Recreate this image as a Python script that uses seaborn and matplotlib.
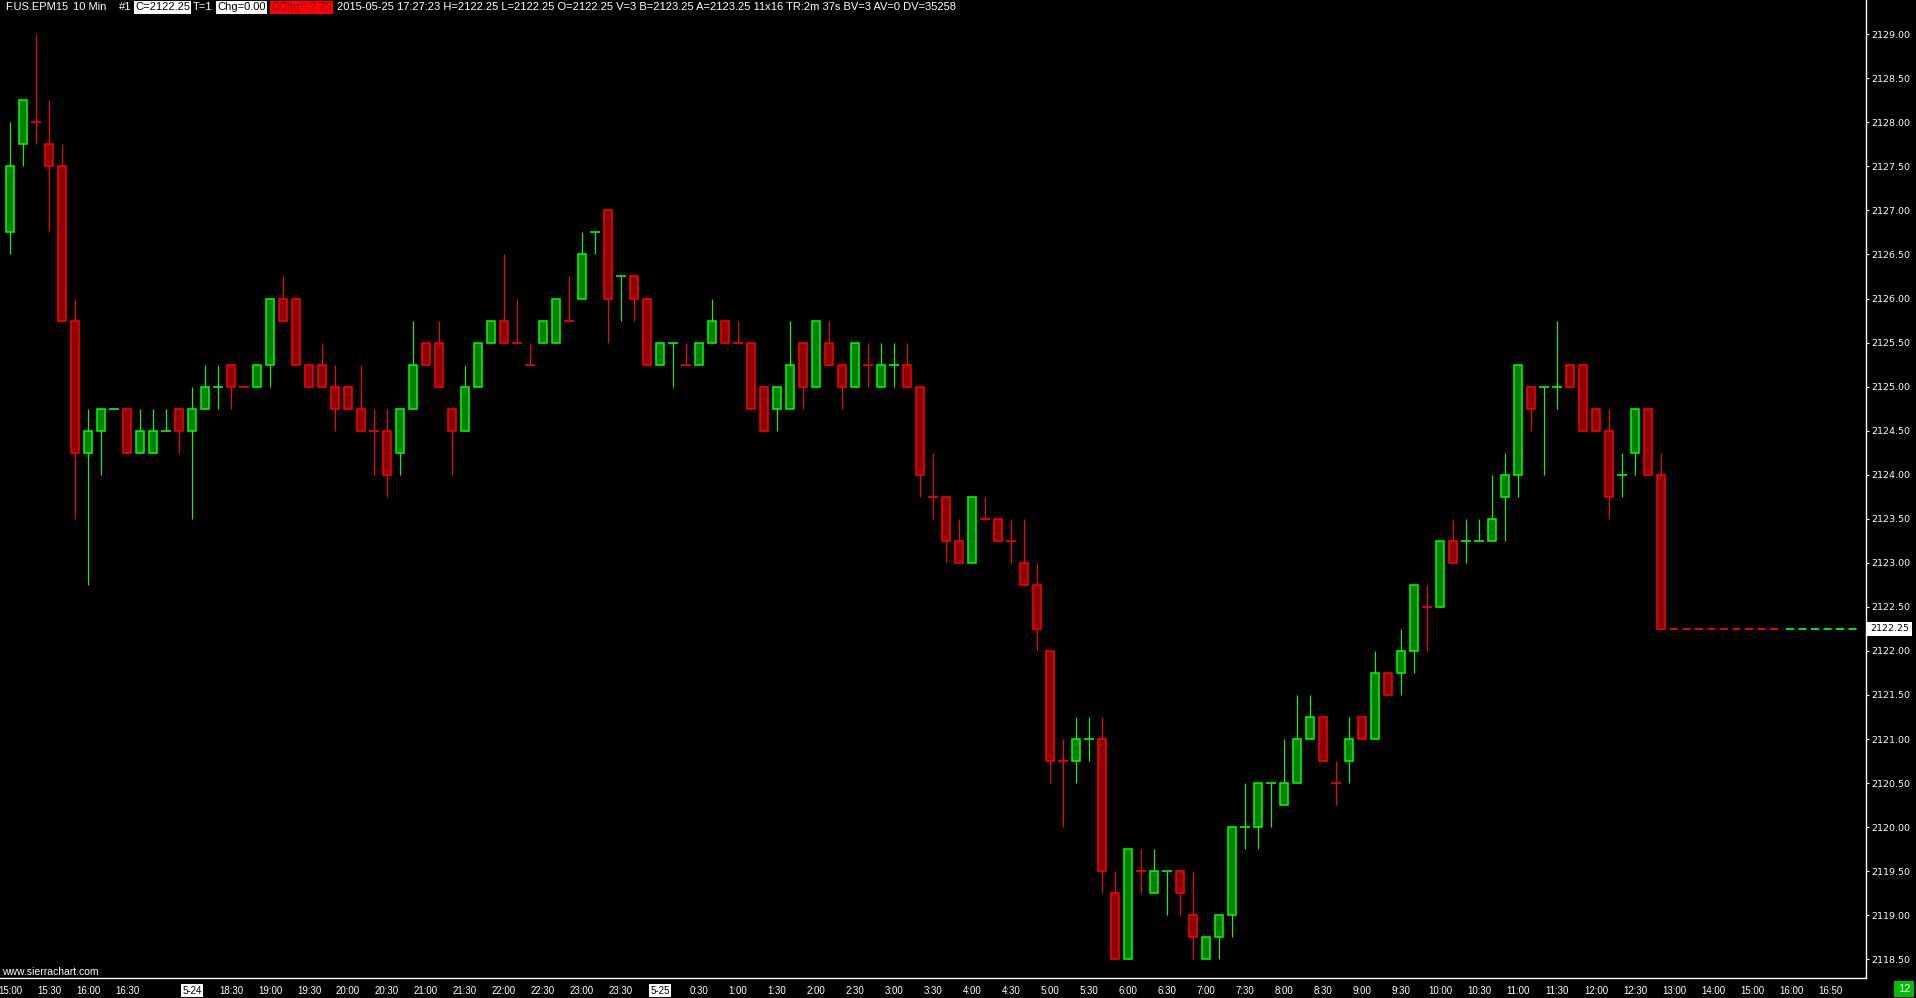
import numpy as np
import pandas as pd
import matplotlib
matplotlib.use("Agg")
import matplotlib.pyplot as plt
import matplotlib.transforms as mtransforms
import seaborn as sns

# ---------------- data (10-minute bars, F.US.EPM15) ----------------
opens = [2126.75, 2127.75, 2128.0, 2127.75, 2127.5, 2125.75, 2124.25, 2124.5, 2124.75, 2124.75,
         2124.25, 2124.25, 2124.5, 2124.75, 2124.5, 2124.75, 2125.0, 2125.25, 2125.0, 2125.0,
         2125.25, 2126.0, 2126.0, 2125.25, 2125.25, 2125.0, 2125.0, 2124.75, 2124.5, 2124.5,
         2124.25, 2124.75, 2125.5, 2125.5, 2124.75, 2124.5, 2125.0, 2125.5, 2125.75, 2125.5,
         2125.25, 2125.5, 2125.5, 2125.75, 2126.0, 2126.75, 2127.0, 2126.25, 2126.25, 2126.0,
         2125.25, 2125.5, 2125.25, 2125.25, 2125.5, 2125.75, 2125.5, 2125.5, 2125.0, 2124.75,
         2124.75, 2125.5, 2125.0, 2125.5, 2125.25, 2125.0, 2125.25, 2125.0, 2125.25, 2125.25,
         2125.0, 2123.75, 2123.75, 2123.25, 2123.0, 2123.5, 2123.5, 2123.25, 2123.0, 2122.75,
         2122.0, 2120.75, 2120.75, 2121.0, 2121.0, 2119.25, 2118.5, 2119.5, 2119.25, 2119.5,
         2119.5, 2119.0, 2118.5, 2118.75, 2119.0, 2120.0, 2120.0, 2120.5, 2120.25, 2120.5,
         2121.0, 2121.25, 2120.5, 2120.75, 2121.25, 2121.0, 2121.75, 2121.75, 2122.0, 2122.5,
         2122.5, 2123.25, 2123.25, 2123.25, 2123.25, 2123.75, 2124.0, 2125.0, 2125.0, 2125.0,
         2125.25, 2125.25, 2124.75, 2124.5, 2124.0, 2124.25, 2124.75, 2124.0]
highs = [2128.0, 2128.25, 2129.0, 2128.25, 2127.75, 2126.0, 2124.75, 2124.75, 2124.75, 2124.75,
         2124.75, 2124.75, 2124.75, 2124.75, 2125.0, 2125.25, 2125.25, 2125.25, 2125.0, 2125.25,
         2126.0, 2126.25, 2126.0, 2125.25, 2125.5, 2125.25, 2125.0, 2125.25, 2124.75, 2124.75,
         2124.75, 2125.75, 2125.5, 2125.75, 2124.75, 2125.25, 2125.5, 2125.75, 2126.5, 2126.0,
         2125.5, 2125.75, 2126.0, 2126.25, 2126.75, 2126.75, 2127.0, 2126.25, 2126.25, 2126.0,
         2125.5, 2125.5, 2125.5, 2125.5, 2126.0, 2125.75, 2125.75, 2125.5, 2125.0, 2125.0,
         2125.75, 2125.5, 2125.75, 2125.75, 2125.25, 2125.5, 2125.5, 2125.5, 2125.5, 2125.5,
         2125.0, 2124.25, 2123.75, 2123.5, 2123.75, 2123.75, 2123.5, 2123.5, 2123.5, 2123.0,
         2122.0, 2121.0, 2121.25, 2121.25, 2121.25, 2119.5, 2119.75, 2119.75, 2119.75, 2119.5,
         2119.5, 2119.5, 2118.75, 2119.0, 2120.0, 2120.5, 2120.5, 2120.5, 2121.0, 2121.5,
         2121.5, 2121.25, 2120.75, 2121.25, 2121.25, 2122.0, 2121.75, 2122.25, 2122.75, 2122.75,
         2123.25, 2123.5, 2123.5, 2123.5, 2124.0, 2124.25, 2125.25, 2125.0, 2125.0, 2125.75,
         2125.25, 2125.25, 2124.75, 2124.75, 2124.25, 2124.75, 2124.75, 2124.25]
lows = [2126.5, 2127.5, 2127.75, 2126.75, 2125.75, 2123.5, 2122.75, 2124.0, 2124.75, 2124.25,
        2124.25, 2124.25, 2124.5, 2124.25, 2123.5, 2124.75, 2124.75, 2124.75, 2125.0, 2125.0,
        2125.0, 2125.75, 2125.25, 2125.0, 2125.0, 2124.5, 2124.75, 2124.5, 2124.0, 2123.75,
        2124.0, 2124.75, 2125.25, 2125.0, 2124.0, 2124.5, 2125.0, 2125.5, 2125.5, 2125.5,
        2125.25, 2125.5, 2125.5, 2125.75, 2126.0, 2126.5, 2125.5, 2125.75, 2125.75, 2125.25,
        2125.25, 2125.0, 2125.25, 2125.25, 2125.5, 2125.5, 2125.5, 2124.75, 2124.5, 2124.5,
        2124.75, 2124.75, 2125.0, 2125.25, 2124.75, 2125.0, 2125.0, 2125.0, 2125.0, 2125.0,
        2123.75, 2123.5, 2123.0, 2123.0, 2123.0, 2123.5, 2123.25, 2123.0, 2122.75, 2122.0,
        2120.5, 2120.0, 2120.5, 2120.75, 2119.25, 2118.5, 2118.5, 2119.25, 2119.25, 2119.0,
        2119.0, 2118.5, 2118.5, 2118.5, 2118.75, 2119.75, 2119.75, 2120.0, 2120.25, 2120.5,
        2121.0, 2120.75, 2120.25, 2120.5, 2121.0, 2121.0, 2121.5, 2121.5, 2121.75, 2122.0,
        2122.5, 2123.0, 2123.0, 2123.25, 2123.25, 2123.25, 2123.75, 2124.5, 2124.0, 2124.75,
        2125.0, 2124.5, 2124.5, 2123.5, 2123.75, 2124.0, 2124.0, 2122.25]
closes = [2127.5, 2128.25, 2128.0, 2127.5, 2125.75, 2124.25, 2124.5, 2124.75, 2124.75, 2124.25,
          2124.5, 2124.5, 2124.5, 2124.5, 2124.75, 2125.0, 2125.0, 2125.0, 2125.0, 2125.25,
          2126.0, 2125.75, 2125.25, 2125.0, 2125.0, 2124.75, 2124.75, 2124.5, 2124.5, 2124.0,
          2124.75, 2125.25, 2125.25, 2125.0, 2124.5, 2125.0, 2125.5, 2125.75, 2125.5, 2125.5,
          2125.25, 2125.75, 2126.0, 2125.75, 2126.5, 2126.75, 2126.0, 2126.25, 2126.0, 2125.25,
          2125.5, 2125.5, 2125.25, 2125.5, 2125.75, 2125.5, 2125.5, 2124.75, 2124.5, 2125.0,
          2125.25, 2125.0, 2125.75, 2125.25, 2125.0, 2125.5, 2125.25, 2125.25, 2125.25, 2125.0,
          2124.0, 2123.75, 2123.25, 2123.0, 2123.75, 2123.5, 2123.25, 2123.25, 2122.75, 2122.25,
          2120.75, 2120.75, 2121.0, 2121.0, 2119.5, 2118.5, 2119.75, 2119.5, 2119.5, 2119.5,
          2119.25, 2118.75, 2118.75, 2119.0, 2120.0, 2120.0, 2120.5, 2120.5, 2120.5, 2121.0,
          2121.25, 2120.75, 2120.5, 2121.0, 2121.0, 2121.75, 2121.5, 2122.0, 2122.75, 2122.5,
          2123.25, 2123.0, 2123.25, 2123.25, 2123.5, 2124.0, 2125.25, 2124.75, 2125.0, 2125.0,
          2125.0, 2124.5, 2124.5, 2123.75, 2124.0, 2124.75, 2124.0, 2122.25]

# x-axis time labels (one every 3 bars; dates mark a session start)
xtick_labels = ["15:00", "15:30", "16:00", "16:30", "5-24", "18:30", "19:00", "19:30", "20:00",
                "20:30", "21:00", "21:30", "22:00", "22:30", "23:00", "23:30", "5-25", "0:30",
                "1:00", "1:30", "2:00", "2:30", "3:00", "3:30", "4:00", "4:30", "5:00", "5:30",
                "6:00", "6:30", "7:00", "7:30", "8:00", "8:30", "9:00", "9:30", "10:00", "10:30",
                "11:00", "11:30", "12:00", "12:30", "13:00", "14:00", "15:00", "16:00", "16:50"]
xtick_bars = [0, 3, 6, 9] + list(range(14, 141, 3))
date_labels = ["5-24", "5-25"]

yticks = np.arange(2118.5, 2129.01, 0.5)
last_price = 2122.25

header_main = ["F.US.EPM15", "10 Min", "#1"]
header_c, header_t, header_chg, header_dchg = "C=2122.25", "T=1", "Chg=0.00", "DChg=-2.25"
header_rest = ("2015-05-25 17:27:23 H=2122.25 L=2122.25 O=2122.25 V=3 B=2123.25 A=2123.25 "
               "11x16 TR:2m 37s BV=3 AV=0 DV=35258")

# ---------------- styling ----------------
sns.set_theme(style="dark", rc={
    "axes.facecolor": "black", "figure.facecolor": "black",
    "axes.edgecolor": "white", "axes.grid": False,
    "xtick.color": "white", "ytick.color": "white",
    "text.color": "white", "lines.scale_dashes": False,
})
plt.rcParams["font.family"] = ["Liberation Sans", "DejaVu Sans"]

UP_EDGE, UP_FILL = "#00ff00", "#008000"
DN_EDGE, DN_FILL = "#ff0000", "#8b0000"


def box(color, pad=0.12):
    return dict(facecolor=color, edgecolor="none", boxstyle=f"square,pad={pad}")


df = pd.DataFrame({"open": opens, "high": highs, "low": lows, "close": closes})
df["x"] = np.arange(len(df))
# direction: body direction, else change vs previous close, else previous colour
up = []
for i, r in df.iterrows():
    if r.close > r.open:
        u = True
    elif r.close < r.open:
        u = False
    elif i > 0 and r.close > df.close[i - 1]:
        u = True
    elif i > 0 and r.close < df.close[i - 1]:
        u = False
    else:
        u = up[-1] if up else True
    up.append(u)
df["up"] = up
edge = np.where(df.up, UP_EDGE, DN_EDGE)
fill = np.where(df.up, UP_FILL, DN_FILL)

W, H = 1916, 998
fig = plt.figure(figsize=(W / 100, H / 100), dpi=100)
ax = fig.add_axes([0, 20 / H, 1866 / W, 978 / H])

px_per_q = 22.03  # pixels per 0.25
ax.set_ylim(2118.5 - (978 - 959.3) / px_per_q * 0.25, 2129.0 + 34.2 / px_per_q * 0.25)
ax.set_xlim(-10 / 13, (1866 - 10) / 13)

# wicks
ax.vlines(df.x, df.low, df.high, colors=edge, linewidth=0.8, zorder=2)
# bodies
body = df[df.open != df.close]
ax.bar(body.x, (body.close - body.open).abs(), bottom=np.minimum(body.open, body.close),
       width=0.56, color=fill[body.index], edgecolor=edge[body.index], linewidth=1.1, zorder=3)
# doji
doji = df[df.open == df.close]
ax.hlines(doji.close, doji.x - 0.36, doji.x + 0.36, colors=edge[doji.index], linewidth=1.2, zorder=3)

# last price dashed line
last = len(df) - 1
ax.hlines(last_price, last + 0.7, last + 9.4, colors=DN_EDGE, linewidth=1.3,
          linestyles=(0, (5.8, 3.2)), zorder=2)
ax.hlines(last_price, last + 9.6, last + 15.4, colors=UP_EDGE, linewidth=1.3,
          linestyles=(0, (5.8, 3.2)), zorder=2)

# spines
for s in ["left", "top"]:
    ax.spines[s].set_visible(False)
for s in ["right", "bottom"]:
    ax.spines[s].set_color("white")
    ax.spines[s].set_linewidth(1.0)

# y axis on right
ax.yaxis.tick_right()
ax.set_yticks(yticks)
ax.set_yticklabels([f"{v:.2f}" for v in yticks], fontfamily="DejaVu Sans")
ax.tick_params(axis="y", which="both", direction="out", length=2.4, width=0.8,
               pad=1.5, labelsize=6.8, colors="white", left=False, right=True)

# x axis
ax.set_xticks(xtick_bars)
ax.set_xticklabels(xtick_labels)
ax.tick_params(axis="x", direction="out", length=2.4, width=0.8, pad=3.0,
               labelsize=7, colors="white")
for t in ax.get_xticklabels():
    if t.get_text() in date_labels:
        t.set_color("black")
        t.set_bbox(box("white", 0.15))

# last price box on the right axis
trans = mtransforms.blended_transform_factory(ax.transAxes, ax.transData)
ax.text(1.0 + 4 / 1866, last_price, f"{last_price:.2f}", transform=trans, color="black",
        fontsize=6.8, fontfamily="DejaVu Sans", va="center", ha="left", zorder=5,
        bbox=box("white", 0.3), clip_on=False)

# header bar
yh = 1 - 7.5 / H
fs = 8
fig.text(5 / W, yh, header_main[0], fontsize=fs, va="center", color="white")
fig.text(73 / W, yh, header_main[1], fontsize=fs, va="center", color="white")
fig.text(119 / W, yh, header_main[2], fontsize=fs, va="center", color="white")
fig.text(135 / W, yh, header_c, fontsize=fs, va="center", color="black", bbox=box("white"))
fig.text(193 / W, yh, header_t, fontsize=fs, va="center", color="white")
fig.text(217 / W, yh, header_chg, fontsize=fs, va="center", color="black", bbox=box("white"))
fig.text(271 / W, yh, header_dchg, fontsize=fs, va="center", color="#8b0000",
         bbox=box("#ff0000"))
fig.text(337 / W, yh, header_rest, fontsize=fs, va="center", color="white")

# watermark and counter box
fig.text(2 / W, 1 - 972 / H, "www.sierrachart.com", fontsize=7.5, va="center", color="white")
fig.text(1904 / W, 1 - 989 / H, "12", fontsize=8, va="center", ha="center", color="white",
         bbox=box("#00c000", 0.3))

fig.savefig("out.png", dpi=100, facecolor="black")
